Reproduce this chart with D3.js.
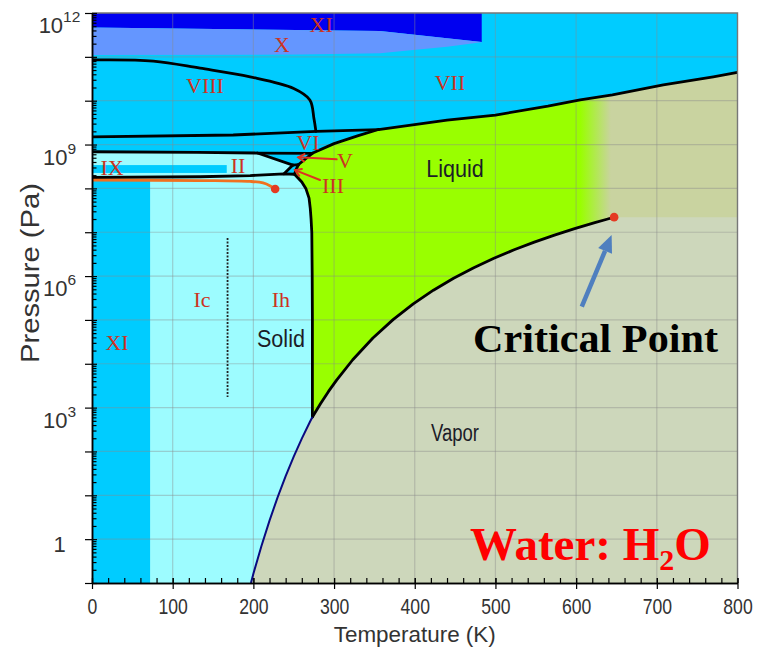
<!DOCTYPE html>
<html>
<head>
<meta charset="utf-8">
<script src="https://cdn.jsdelivr.net/npm/d3@7"></script>
<style>
  body { margin: 0; background: #fff; }
  svg { display: block; }
</style>
</head>
<body>
<svg id="chart" width="761" height="656"></svg>
<script>
// ---------- Phase boundaries of water: [temperature (K), pressure (Pa)] ----------
const sublimationCurve = [[197,0.1],[200,0.163],[210,0.701],[220,2.65],[230,8.97],[240,27.3],
  [250,76.0],[260,195.8],[270,470],[273.16,611.7]];
const vaporizationCurve = [[273.16,611.7],[283.15,1228],[293.15,2339],[303.15,4247],[323.15,12352],
  [348.15,38595],[373.15,101418],[398.15,232200],[423.15,476160],[448.15,892600],[473.15,1554900],
  [498.15,2550000],[523.15,3976000],[548.15,5942000],[573.15,8587900],[598.15,12046000],
  [623.15,16529000],[638.15,19800000],[647.1,22064000]];
const criticalPoint = [647.1, 22064000];
const meltingIh = [[273.16,611.7],[273.15,1e5],[272.9,1e6],[272.4,1e7],[271.5,2e7],[270.5,3.5e7],
  [269,6e7],[265,1.0e8],[260,1.4e8],[254.5,1.8e8],[251,2.1e8]];
const meltingIII = [[251,2.1e8],[253,2.7e8],[256,3.5e8]];
const meltingV = [[256,3.5e8],[273,6.3e8]];
const meltingVI = [[273,6.3e8],[300,1.05e9],[330,1.6e9],[355,2.2e9]];
const meltingVII = [[355,2.2e9],[440,3.6e9],[500,4.7e9],[565,7.5e9],[605,1.04e10],[645,1.35e10],
  [708,2.3e10],[770,3.5e10],[800,4.4e10]];
const boundaryIhII = [[0,1.77e8],[134,1.84e8],[196,1.96e8],[238,2.15e8],[251,2.1e8]];
const boundaryIIVI = [[0,6.85e8],[130,6.6e8],[205,6.4e8],[273,6.3e8]];
const boundaryIIV = [[205,6.4e8],[249,3.4e8]];
const boundaryIIIII = [[238,2.15e8],[249,3.4e8]];
const boundaryIIIV = [[249,3.4e8],[256,3.5e8]];
const boundaryVIVIII = [[0,1.5e9],[175,1.65e9],[278,2.0e9],[355,2.2e9]];
const boundaryVIIVIII = [[0,8.5e10],[76,8.0e10],[134,5.5e10],[196,3.5e10],[250,1.9e10],
  [270,1.04e10],[275,4e9],[277.5,2.0e9]];
const iceXTop = [[0,4.7e11],[357,3.9e11],[483,2.18e11]];
const iceXBottom = [[0,1.1e11],[258,1.13e11],[357,1.2e11],[398,1.43e11],[440,1.7e11],[483,2.15e11]];
const orderingLine = [[0,1.55e8],[134,1.51e8],[196,1.44e8],[212,1.33e8],[221,1.14e8],[227,9.7e7]];
const iceXIStripT = [0, 72];
const iceXIStripP = [0.1, 1.5e8];
const iceIXBoxT = [0, 167];
const iceIXBoxP = [2.25e8, 3.4e8];
const cubicHexT = 168;
const cubicHexP = [1.75e3, 7.4e6];

// ---------- Axes ----------
const tempTicks = [0,100,200,300,400,500,600,700,800];
const tempMinorTicks = d3.range(0, 801, 20);
const pressureDecades = d3.range(-1, 13).map(k => Math.pow(10, k));
const pressureLabelValues = [1, 1e3, 1e6, 1e9, 1e12];
const pressureLabelExps = ["", "3", "6", "9", "12"];

// ---------- Phase labels: [text, T, P] ----------
const iceLabels = [["XI",284,3.74e11],["X",235.5,1.31e11],["VIII",140,1.5e10],["VII",443.7,1.75e10],
  ["VI",267.7,7.5e8],["II",181,2.24e8],["IX",24.8,2.02e8],["V",313.5,2.91e8],["III",298.7,7.8e7],
  ["Ic",136.3,1.97e5],["Ih",234.2,1.97e5],["XI",31,2.06e4]];
const stateLabels = [["Liquid",449.9,1.85e8],["Solid",234.2,2.45e4],["Vapor",449.9,173]];
const pointerArrows = [[[303.2,4.6e8],[255.7,5.1e8]], [[282.6,1.55e8],[251.6,2.6e8]]];
const criticalArrow = [[607,2.0e5],[644,8.6e6]];
const criticalLabelAt = [472.2, 1.88e4];
const titleAt = [468.5, 0.335];

// ---------- Colours ----------
const cVapor = "#cdd7bb", cSuper = "#c9d3a0", cLiquid = "#99ff00", cIce = "#00ccff",
      cIceLight = "#9dfcff", cIceX = "#6496ff", cIceXI = "#0000f0", cLabel = "#cc3322";

const svg = d3.select("#chart");
const x = d3.scaleLinear().domain([0, 800]).range([92, 737.5]);
const y = d3.scaleLog().domain([1e-1, 1e12]).range([583, 13]);
const line = d3.line().x(d => x(d[0])).y(d => y(d[1]));
const smooth = d3.line().x(d => x(d[0])).y(d => y(d[1])).curve(d3.curveCatmullRom.alpha(0.5));
const poly = pts => line(pts) + "Z";
const rev = a => a.slice().reverse();

const defs = svg.append("defs");
defs.append("clipPath").attr("id", "plotClip").append("rect")
  .attr("x", x(0)).attr("y", y(1e12)).attr("width", x(800) - x(0)).attr("height", y(1e-1) - y(1e12));
const grad = defs.append("linearGradient").attr("id", "supercritical")
  .attr("gradientUnits", "userSpaceOnUse")
  .attr("x1", x(criticalPoint[0] - 42)).attr("x2", x(criticalPoint[0] - 4)).attr("y1", 0).attr("y2", 0);
grad.append("stop").attr("offset", 0).attr("stop-color", cLiquid);
grad.append("stop").attr("offset", 1).attr("stop-color", cSuper);

const plot = svg.append("g").attr("clip-path", "url(#plotClip)");

// vapour background
plot.append("rect").attr("x", x(0)).attr("y", y(1e12))
  .attr("width", x(800) - x(0)).attr("height", y(1e-1) - y(1e12)).attr("fill", cVapor);

// high-pressure ices (VI, VII, VIII, V, III)
plot.append("path").attr("fill", cIce).attr("d", poly([[0,1e12],[800,1e12], ...rev(meltingVII),
  ...rev(meltingVI), ...rev(meltingV), ...rev(meltingIII), ...rev(boundaryIhII)]));

// ice XI (high pressure) and ice X bands
plot.append("path").attr("fill", cIceXI)
  .attr("d", poly([[0,1e12],[483,1e12], ...rev(iceXTop)]));
plot.append("path").attr("fill", cIceX)
  .attr("d", poly([...iceXTop, ...rev(iceXBottom)]));

// ice Ih / Ic and ice II
plot.append("path").attr("fill", cIceLight).attr("d", poly([...boundaryIhII, ...rev(meltingIh),
  ...rev(sublimationCurve), [0,0.1]]));
plot.append("path").attr("fill", cIceLight).attr("d", poly([...boundaryIIVI.slice(0,3), ...boundaryIIV,
  ...rev(boundaryIIIII), ...rev(boundaryIhII.slice(0,4))]));

// ice XI (low temperature) and ice IX
plot.append("rect").attr("fill", cIce)
  .attr("x", x(iceXIStripT[0])).attr("y", y(iceXIStripP[1]))
  .attr("width", x(iceXIStripT[1]) - x(iceXIStripT[0])).attr("height", y(iceXIStripP[0]) - y(iceXIStripP[1]));
plot.append("rect").attr("fill", cIce)
  .attr("x", x(iceIXBoxT[0])).attr("y", y(iceIXBoxP[1]))
  .attr("width", x(iceIXBoxT[1]) - x(iceIXBoxT[0])).attr("height", y(iceIXBoxP[0]) - y(iceIXBoxP[1]));

// liquid, fading into the supercritical fluid
plot.append("path").attr("fill", "url(#supercritical)").attr("d", poly([...meltingIh, ...meltingIII,
  ...meltingV, ...meltingVI, ...meltingVII, [800, criticalPoint[1]], criticalPoint, ...rev(vaporizationCurve)]));

// grid
const grid = plot.append("g").attr("stroke", "#8a8a8a").attr("stroke-opacity", 0.4).attr("stroke-width", 1.2);
tempTicks.slice(1, -1).forEach(t => grid.append("line")
  .attr("x1", x(t)).attr("x2", x(t)).attr("y1", y(1e12)).attr("y2", y(1e-1)));
pressureDecades.slice(1, -1).forEach(p => grid.append("line")
  .attr("x1", x(0)).attr("x2", x(800)).attr("y1", y(p)).attr("y2", y(p)));

// cubic / hexagonal ice divide
plot.append("line").attr("x1", x(cubicHexT)).attr("x2", x(cubicHexT))
  .attr("y1", y(cubicHexP[1])).attr("y2", y(cubicHexP[0]))
  .attr("stroke", "#222").attr("stroke-width", 1.8).attr("stroke-dasharray", "2,1.5");

// phase boundaries
const black = plot.append("g").attr("fill", "none").attr("stroke", "#000")
  .attr("stroke-width", 2.8).attr("stroke-linejoin", "round").attr("stroke-linecap", "round");
[vaporizationCurve, meltingIh, meltingIII, meltingV, meltingVI, meltingVII, boundaryIhII,
 boundaryIIVI, boundaryIIV, boundaryIIIII, boundaryIIIV, boundaryVIVIII]
  .forEach(b => black.append("path").attr("d", line(b)));
black.append("path").attr("d", smooth(boundaryVIIVIII));
plot.append("path").attr("d", line(sublimationCurve)).attr("fill", "none")
  .attr("stroke", "#0a0a80").attr("stroke-width", 2);

// ice Ih proton-ordering line
plot.append("path").attr("d", smooth(orderingLine)).attr("fill", "none")
  .attr("stroke", "#f07020").attr("stroke-width", 2.8);
const lastOrder = orderingLine[orderingLine.length - 1];
svg.append("circle").attr("cx", x(lastOrder[0])).attr("cy", y(lastOrder[1])).attr("r", 4.3).attr("fill", "#e43a22");
svg.append("circle").attr("cx", x(criticalPoint[0])).attr("cy", y(criticalPoint[1])).attr("r", 4.3).attr("fill", "#e43a22");

// frame
svg.append("path").attr("fill", "none").attr("stroke", "#777").attr("stroke-width", 1.4)
  .attr("d", `M${x(0)},${y(1e12)}H${x(800)}V${y(1e-1)}`);

// x axis
const xMinor = svg.append("g").attr("transform", `translate(0,${y(1e-1)})`)
  .call(d3.axisBottom(x).tickValues(tempMinorTicks).tickSize(-5).tickSizeOuter(0).tickFormat(""));
const xMajor = svg.append("g").attr("transform", `translate(0,${y(1e-1)})`)
  .call(d3.axisBottom(x).tickValues(tempTicks).tickSize(6).tickSizeOuter(0).tickFormat(d3.format("d")));
xMajor.selectAll(".tick line").attr("y1", -5);
xMajor.selectAll(".tick text").attr("y", 31).attr("dy", 0).attr("fill", "#333")
  .attr("font-family", "Liberation Sans, Arial, sans-serif").attr("font-size", 22)
  .attr("transform", "scale(0.8,1)");

// y axis
const yMinorValues = [];
pressureDecades.slice(0, -1).forEach(p => { for (let m = 2; m <= 9; m++) yMinorValues.push(p * m); });
const yMinor = svg.append("g").attr("transform", `translate(${x(0)},0)`)
  .call(d3.axisLeft(y).tickValues(yMinorValues).tickSize(-4.5).tickSizeOuter(0).tickFormat(""));
const yMajor = svg.append("g").attr("transform", `translate(${x(0)},0)`)
  .call(d3.axisLeft(y).tickValues(pressureDecades).tickSize(7).tickSizeOuter(0).tickFormat(""));
yMajor.selectAll(".tick line").attr("x1", 5);
[xMinor, xMajor, yMinor, yMajor].forEach(g => {
  g.select(".domain").attr("stroke", "#000").attr("stroke-width", 1.5);
  g.selectAll(".tick line").attr("stroke", "#000").attr("stroke-width", 1.2);
});

const yLab = svg.append("g").attr("font-family", "Liberation Sans, Arial, sans-serif").attr("fill", "#333");
pressureLabelValues.forEach((v, i) => {
  const e = pressureLabelExps[i];
  const t = yLab.append("text").attr("x", 59.5).attr("text-anchor", "middle").attr("font-size", 22);
  if (e === "") {
    t.attr("y", y(v) + 12.5).text("1");
  } else {
    t.attr("y", y(v) + 20);
    t.append("tspan").text("10");
    t.append("tspan").attr("dy", -11).attr("font-size", 15.5).text(e);
  }
});

// axis titles
svg.append("text").attr("x", x(400)).attr("y", 642).attr("text-anchor", "middle")
  .attr("font-family", "Liberation Sans, Arial, sans-serif").attr("font-size", 22).attr("fill", "#333")
  .attr("textLength", 162).attr("lengthAdjust", "spacingAndGlyphs").text("Temperature (K)");
svg.append("text").attr("transform", "translate(38.5,273) rotate(-90)").attr("text-anchor", "middle")
  .attr("font-family", "Liberation Sans, Arial, sans-serif").attr("font-size", 25).attr("fill", "#333")
  .attr("textLength", 180).attr("lengthAdjust", "spacingAndGlyphs").text("Pressure (Pa)");

// phase labels
const lab = svg.append("g");
iceLabels.forEach(([s, t, p]) => lab.append("text").attr("x", x(t)).attr("y", y(p))
  .attr("text-anchor", "middle").attr("font-family", "Liberation Serif, Times New Roman, serif")
  .attr("font-size", 22).attr("fill", cLabel).text(s));
stateLabels.forEach(([s, t, p]) => lab.append("text").attr("x", x(t)).attr("y", y(p))
  .attr("text-anchor", "middle").attr("font-family", "Liberation Sans, Arial, sans-serif")
  .attr("font-size", 23).attr("fill", "#1c1c28")
  .attr("textLength", s.length * 9.6).attr("lengthAdjust", "spacingAndGlyphs").text(s));

// arrows to ice V and ice III
pointerArrows.forEach(([a, b]) => {
  const x0 = x(a[0]), y0 = y(a[1]), x1 = x(b[0]), y1 = y(b[1]);
  const ang = Math.atan2(y1 - y0, x1 - x0), h = 7, w = 0.55;
  const g = svg.append("g").attr("stroke", "#dd3322").attr("stroke-width", 2).attr("fill", "none")
    .attr("stroke-linecap", "round");
  g.append("line").attr("x1", x0).attr("y1", y0).attr("x2", x1).attr("y2", y1);
  g.append("path").attr("d", `M${x1 - h * Math.cos(ang - w)},${y1 - h * Math.sin(ang - w)}L${x1},${y1}` +
    `L${x1 - h * Math.cos(ang + w)},${y1 - h * Math.sin(ang + w)}`);
});

// arrow to the critical point
{
  const [a, b] = criticalArrow;
  const x0 = x(a[0]), y0 = y(a[1]), x1 = x(b[0]), y1 = y(b[1]);
  const ang = Math.atan2(y1 - y0, x1 - x0), hl = 17, hw = 7.5;
  const bx = x1 - hl * Math.cos(ang), by = y1 - hl * Math.sin(ang);
  const nx = -Math.sin(ang), ny = Math.cos(ang);
  svg.append("line").attr("x1", x0).attr("y1", y0).attr("x2", bx).attr("y2", by)
    .attr("stroke", "#4f7fbf").attr("stroke-width", 4.5);
  svg.append("path").attr("fill", "#4f7fbf")
    .attr("d", `M${x1},${y1}L${bx + nx * hw},${by + ny * hw}L${bx - nx * hw},${by - ny * hw}Z`);
}

svg.append("text").attr("x", x(criticalLabelAt[0])).attr("y", y(criticalLabelAt[1]))
  .attr("font-family", "Liberation Serif, Times New Roman, serif").attr("font-weight", "bold")
  .attr("font-size", 41).attr("fill", "#000")
  .attr("textLength", 245).attr("lengthAdjust", "spacingAndGlyphs").text("Critical Point");

const title = svg.append("text").attr("x", x(titleAt[0])).attr("y", y(titleAt[1]))
  .attr("font-family", "Liberation Serif, Times New Roman, serif").attr("font-weight", "bold")
  .attr("font-size", 47).attr("fill", "#ff0000");
title.append("tspan").text("Water: H");
title.append("tspan").attr("dy", 10).attr("font-size", 30).text("2");
title.append("tspan").attr("dy", -10).text("O");
</script>
</body>
</html>
